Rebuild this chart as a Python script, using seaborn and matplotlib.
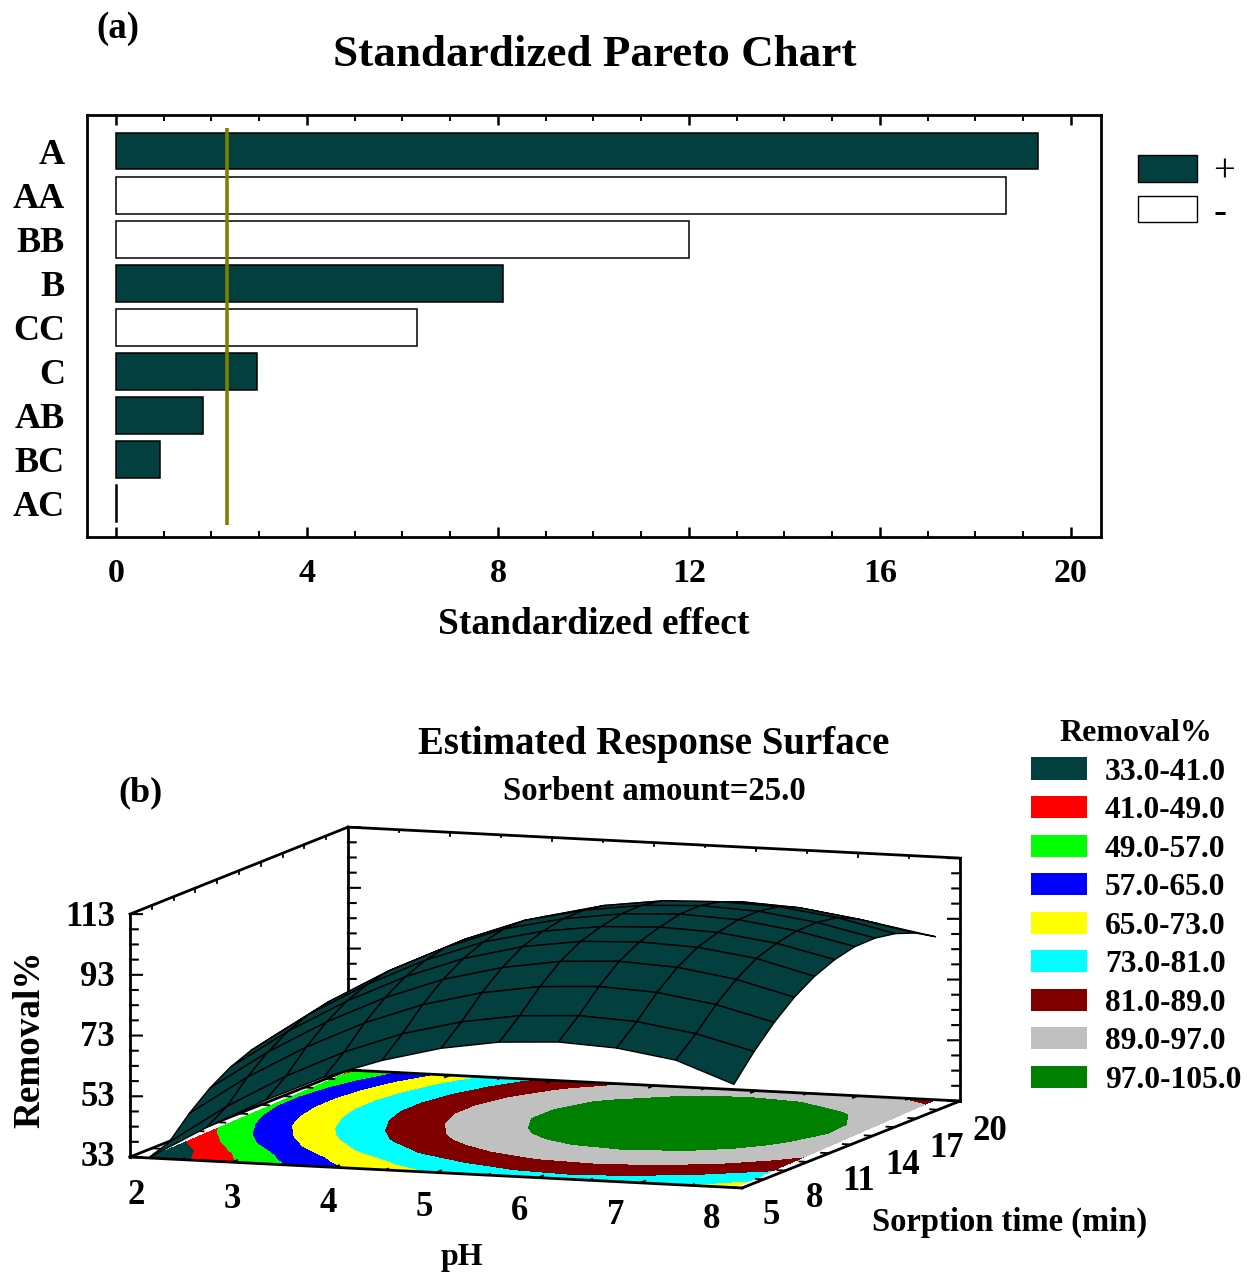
import numpy as np
import pandas as pd
import seaborn as sns
import matplotlib
matplotlib.use("Agg")
import matplotlib.pyplot as plt
from matplotlib.patches import Patch
from mpl_toolkits.mplot3d import proj3d

# Pareto chart data
effect_names = ["A", "AA", "BB", "B", "CC", "C", "AB", "BC", "AC"]
effect_values = [19.31, 18.64, 12.0, 8.1, 6.3, 2.95, 1.82, 0.92, 0.03]
effect_signs = ["+", "-", "-", "+", "-", "+", "+", "+", "+"]
significance = 2.32
effect_ticks = [0, 4, 8, 12, 16, 20]

# Response surface (rows: sorption time, columns: pH position)
time_values = [5, 6.5, 8, 9.5, 11, 12.5, 14, 15.5, 17, 18.5, 20]
ph_front = [2.18, 2.75, 3.33, 3.90, 4.47, 5.05, 5.62, 6.20, 6.77, 7.35, 7.92]
ph_back = [2.05, 2.62, 3.19, 3.76, 4.33, 4.91, 5.48, 6.05, 6.62, 7.19, 7.76]
removal = [
    [33.0, 44.0, 54.0, 62.5, 69.0, 74.0, 77.0, 78.0, 77.0, 74.0, 67.0],
    [35.2, 48.1, 59.0, 67.9, 74.9, 79.8, 82.8, 83.8, 82.8, 79.8, 74.9],
    [41.9, 54.8, 65.7, 74.6, 81.6, 86.5, 89.5, 90.5, 89.5, 86.5, 81.6],
    [47.3, 60.2, 71.1, 80.0, 87.0, 91.9, 94.9, 95.9, 94.9, 91.9, 87.0],
    [51.3, 64.2, 75.1, 84.0, 91.0, 95.9, 98.6, 99.4, 98.6, 95.9, 91.0],
    [53.9, 66.8, 77.7, 86.6, 93.6, 98.1, 100.6, 101.4, 100.6, 98.0, 93.6],
    [55.3, 68.2, 79.1, 88.0, 95.0, 99.3, 101.9, 102.8, 101.9, 99.2, 95.0],
    [55.2, 68.1, 79.0, 87.9, 94.9, 99.2, 101.8, 102.7, 101.8, 99.1, 94.9],
    [53.8, 66.7, 77.6, 86.5, 93.3, 97.9, 100.4, 101.1, 100.4, 97.8, 93.5],
    [51.1, 64.0, 74.9, 83.8, 90.0, 94.5, 97.2, 98.2, 97.2, 94.5, 90.8],
    [47.0, 59.9, 70.8, 79.7, 85.7, 90.1, 93.0, 94.0, 93.0, 90.1, 86.7],
]
levels = [33, 41, 49, 57, 65, 73, 81, 89, 97, 105]
level_labels = ["33.0-41.0", "41.0-49.0", "49.0-57.0", "57.0-65.0", "65.0-73.0",
                "73.0-81.0", "81.0-89.0", "89.0-97.0", "97.0-105.0"]
ph_ticks = [2, 3, 4, 5, 6, 7, 8]
time_ticks = [5, 8, 11, 14, 17, 20]
removal_ticks = [33, 53, 73, 93, 113]

# Colours
TEAL = "#033f3f"
level_colors = [TEAL, "#ff0000", "#00ff00", "#0000ff", "#ffff00",
                "#00ffff", "#800000", "#c0c0c0", "#008000"]

W, H = 1247, 1274
sns.set_theme(style="white")
serif = "Liberation Serif"
plt.rcParams["font.family"] = [serif, "DejaVu Serif"]
plt.rcParams["axes.edgecolor"] = "black"
plt.rcParams["text.color"] = "black"
plt.rcParams["xtick.color"] = "black"
plt.rcParams["ytick.color"] = "black"

fig = plt.figure(figsize=(W / 100, H / 100), dpi=100, facecolor="white")


def label(x, y, text, size, ha="center", va="center", rotation=0, weight="bold"):
    # x, y in reference pixels
    fig.text(x / W, 1 - (y + 2) / H, text, fontsize=size, ha=ha, va=va,
             rotation=rotation, weight=weight, color="black")


# ----- (a) Pareto chart -----
ax = fig.add_axes([87 / W, 1 - 537 / H, (1101 - 87) / W, (537 - 115) / H])
df = pd.DataFrame({"name": effect_names, "effect": effect_values, "sign": effect_signs})
sns.barplot(data=df, y="name", x="effect", hue="sign", order=effect_names,
            palette={"+": TEAL, "-": "white"}, dodge=False, width=0.84,
            edgecolor="black", linewidth=1.1, saturation=1, legend=False, ax=ax)
ax.vlines(significance, -0.52, 8.5, color="#808000", linewidth=2.6, zorder=5)
ax.set_xlim(-0.607, 20.63)
ax.set_ylim(8.77, -0.818)
ax.set_xticks(effect_ticks)
ax.set_xticks(range(0, 21), minor=True)
ax.tick_params(axis="x", which="major", direction="in", length=7, width=1.8, top=True,
               bottom=True, pad=15, labelsize=24.5, labelcolor="black")
ax.tick_params(axis="x", which="minor", direction="in", length=4, width=1.4, top=True, bottom=True)
ax.tick_params(axis="y", length=0, pad=16, labelsize=26, labelcolor="black")
for t in ax.get_xticklabels() + ax.get_yticklabels():
    t.set_fontweight("bold")
ax.set_xlabel("")
ax.set_ylabel("")
for s in ax.spines.values():
    s.set_linewidth(2.0)
    s.set_visible(True)

label(595, 53, "Standardized Pareto Chart", 32.5)
label(594, 622, "Standardized effect", 27)
label(118, 27, "(a)", 26.6)

fig.legend(handles=[Patch(facecolor=TEAL, edgecolor="black", label="+"),
                    Patch(facecolor="white", edgecolor="black", label="-")],
           loc="upper left", bbox_to_anchor=(1138 / W, 1 - 154 / H), bbox_transform=fig.transFigure,
           frameon=False, borderpad=0, borderaxespad=0, fontsize=28,
           handlelength=1.52, handleheight=0.67, handletextpad=0.42, labelspacing=0.1)

# ----- (b) response surface -----
ax3d = fig.add_axes([100 / W, 1 - 1250 / H, 1000 / W, 1000 / H], projection="3d", proj_type="ortho")
ax3d.computed_zorder = False
ax3d.view_init(elev=8.17, azim=-70.4)
ax3d.set_xlim(2, 8, view_margin=0)
ax3d.set_ylim(5, 20, view_margin=0)
ax3d.set_zlim(33, 113, view_margin=0)
ax3d.set_axis_off()
ax3d.patch.set_visible(False)
box = (650, 650, 245.5)
ax3d.set_box_aspect(box)


def to_px(x, y, z):
    xs, ys, _ = proj3d.proj_transform(x, y, z, ax3d.get_proj())
    return ax3d.transData.transform((xs, ys))


# fit the box onto the frame position of the reference
fig.canvas.draw()
span = to_px(8, 20, 33)[0] - to_px(2, 5, 33)[0]
ax3d.set_box_aspect(box, zoom=830 / span)
fig.canvas.draw()
p = to_px(2, 5, 33)
pos = ax3d.get_position()
ax3d.set_position([pos.x0 + (130 - p[0]) / W, pos.y0 + (H - 1157 - p[1]) / H, pos.width, pos.height])

Z = np.array(removal)
Y, _ = np.meshgrid(time_values, ph_front, indexing="ij")
frac = (np.array(time_values) - 5) / 15
X = np.outer(1 - frac, ph_front) + np.outer(frac, ph_back)

ax3d.contourf(X, Y, Z, levels=levels, colors=level_colors, zdir="z", offset=33,
              antialiased=False, zorder=2)
ax3d.plot_surface(X, Y, Z, color=TEAL, edgecolor="black", linewidth=1.0, shade=False,
                  rstride=1, cstride=1, antialiased=True, zorder=3)


def seg(a, b, lw=2.0, zorder=1.5):
    ax3d.plot([a[0], b[0]], [a[1], b[1]], [a[2], b[2]], color="black", lw=lw,
              solid_capstyle="projecting", zorder=zorder)


# box outline
seg((2, 5, 33), (2, 5, 113))
seg((2, 5, 113), (2, 20, 113))
seg((2, 20, 113), (8, 20, 113))
seg((2, 20, 33), (2, 20, 113))
seg((8, 20, 33), (8, 20, 113))
seg((2, 5, 33), (8, 5, 33), zorder=2.5)
seg((8, 5, 33), (8, 20, 33), zorder=2.5)
seg((2, 5, 33), (2, 20, 33), zorder=2.5)
seg((2, 20, 33), (8, 20, 33), zorder=2.5)

# removal ticks on the three uprights, screen horizontal
for z in range(33, 114, 5):
    k = 1.0 if z in removal_ticks else 0.65
    seg((2, 5, z), (2 + 0.104 * k, 5 + 0.093 * k, z), lw=1.5)
    seg((2, 20, z), (2 + 0.104 * k, 20 + 0.093 * k, z), lw=1.5)
    seg((8, 20, z), (8 - 0.104 * k, 20 - 0.093 * k, z), lw=1.5)

# small ticks along the floor and top edges
for ph in np.arange(2, 8.01, 0.5):
    k = 1.0 if float(ph).is_integer() else 0.6
    seg((ph, 5, 33), (ph, 5 + 0.35 * k, 33), lw=1.3, zorder=2.5)
    seg((ph, 20, 33), (ph, 20 - 0.35 * k, 33), lw=1.3, zorder=2.5)
    seg((ph, 20, 113), (ph, 20, 113 - 1.2 * k), lw=1.3)
for t in np.arange(5, 20.01, 1.5):
    seg((2, t, 33), (2.08, t, 33), lw=1.3, zorder=2.5)
    seg((8, t, 33), (7.92, t, 33), lw=1.3, zorder=2.5)
    seg((2, t, 113), (2, t, 111.8), lw=1.3)

# tick labels and titles
for ph in ph_ticks:
    label(136 + 96 * (ph - 2), 1193 + 4 * (ph - 2), str(ph), 25)
for t in time_ticks:
    label(771 + (t - 5) / 3 * 43.8, 1213 - (t - 5) / 3 * 16.6, str(t), 25)
for z in removal_ticks:
    label(115, 1155 - (z - 33) * 3, str(z), 25, ha="right")

label(654, 742, "Estimated Response Surface", 28)
label(654, 789, "Sorbent amount=25.0", 23.6)
label(141, 791, "(b)", 26)
label(30, 1037, "Removal%", 26.7, rotation=90)
label(462, 1255, "pH", 23)
label(1010, 1220, "Sorption time (min)", 23.5)

handles = [Patch(facecolor=c, edgecolor="none", label=lab) for c, lab in zip(level_colors, level_labels)]
fig.legend(handles=handles, title="Removal%", loc="upper left",
           bbox_to_anchor=(1031 / W, 1 - 719 / H), bbox_transform=fig.transFigure,
           frameon=False, borderpad=0, borderaxespad=0, handlelength=1.77, handleheight=0.7,
           handletextpad=0.57, labelspacing=0.3,
           prop={"family": serif, "weight": "bold", "size": 22.7},
           title_fontproperties={"family": serif, "weight": "bold", "size": 23}, alignment="center")

fig.savefig("out.png", dpi=100)
